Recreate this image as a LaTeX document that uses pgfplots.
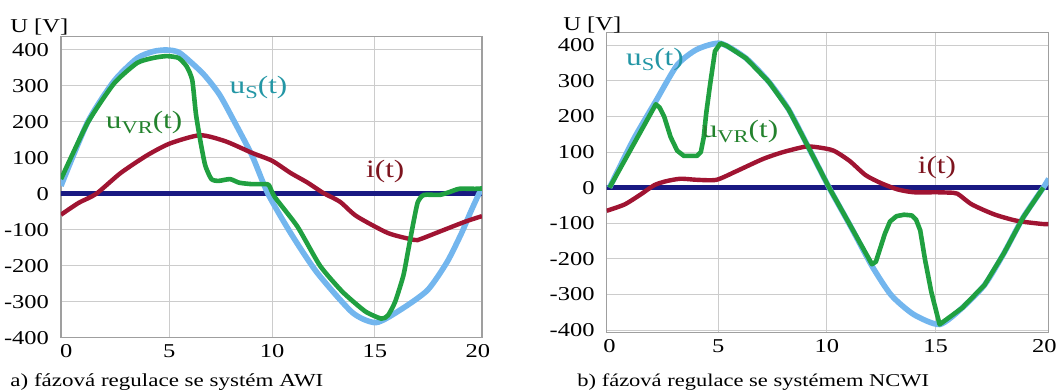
\documentclass[border=0pt]{standalone}
\usepackage{pgfplots}
\pgfplotsset{compat=1.18}
\usepackage{fontspec}
\setmainfont{Liberation Serif}[FakeStretch=1.25]
\definecolor{usblue}{RGB}{115,182,238}
\definecolor{vrgreen}{RGB}{32,160,64}
\definecolor{ired}{RGB}{160,20,50}
\definecolor{navyz}{RGB}{25,25,130}
\definecolor{lblteal}{RGB}{35,150,165}
\definecolor{lblgreen}{RGB}{35,130,45}
\definecolor{lblred}{RGB}{125,20,30}
\newcommand{\tfont}{\fontsize{9.8}{11}\selectfont}
\pgfplotsset{myax/.style={
  scale only axis, anchor=south west,
  ytick={-400,-300,...,400},
  xtick={5,10,15},
  extra x ticks={0,20}, extra x tick style={grid=none},
  grid=major, major grid style={draw=gray!40, line width=0.5pt},
  axis line style={draw=gray!75, line width=0.7pt},
  tick style={draw=none},
  ticklabel style={font=\tfont},
  yticklabel style={xshift=-2.5pt},
  /pgf/number format/assume math mode=true,
  clip=true,
}}
\newcommand{\lbl}{\fontsize{12.5}{14}\selectfont}
\newcommand{\sub}[1]{\raisebox{-0.4ex}{\fontsize{9}{10}\selectfont #1}}
\begin{document}
\begin{tikzpicture}
\useasboundingbox (0,0) rectangle (531pt,195pt);
% ---------- left ----------
\begin{axis}[myax, at={(30.5pt,26.15pt)}, width=210.5pt, height=150.5pt,
  xmin=-0.26, xmax=20.2, ymin=-400, ymax=437]
\addplot[navyz, line width=2.4pt] coordinates {(-0.3,0) (20.3,0)};
\addplot[usblue, line width=2.8pt, smooth, tension=0.4] coordinates {
(-0.26,22) (1.04,200) (2.32,314) (3.44,377) (4.23,396) (4.87,400) (5.51,392) (6.63,335) (7.42,278) (8.06,212) (9.02,107) (9.8,0)
(10.9,-109) (12.17,-218) (13.9,-330) (15.05,-358) (16.25,-322) (17.55,-268) (18.5,-190) (19.2,-110) (19.65,-50) (20.05,0) (20.2,15)};
\addplot[ired, line width=2.2pt, smooth, tension=0.4] coordinates {
(-0.26,-58) (0.6,-25) (1.45,0) (2.64,58) (3.92,107) (5.03,140) (6.5,163) (7.74,146) (9.02,114) (10.0,92) (10.9,58) (11.7,32) (12.5,2) (13.3,-22) (14.1,-62) (15.63,-109) (16.9,-128) (17.2,-126) (18.14,-105) (19.4,-77) (20.2,-62)};
\addplot[vrgreen, line width=2.3pt, line join=round, smooth, tension=0.35] coordinates {
(-0.26,41) (1.04,198) (2.32,307) (3.44,364) (4.23,378) (4.87,383) (5.45,378) (5.85,354) (6.12,316) (6.3,221) (6.52,145) (6.75,79) (7.05,41) (7.4,36) (7.95,41) (8.4,31) (9.02,27) (9.66,27) (9.85,24) (10.13,-9) (11.23,-91) (12.33,-200) (13.43,-273) (14.53,-327) (15.31,-347) (15.63,-338) (15.98,-300) (16.38,-227) (16.62,-155) (16.86,-82) (17.08,-23) (17.38,-3) (18.14,-3) (18.62,5) (19.09,14) (19.87,14) (20.2,15)};
\node[lblteal, font=\lbl] at (axis cs:9.34,295) {u\sub{S}(t)};
\node[lblgreen, font=\lbl] at (axis cs:3.78,198) {u\sub{VR}(t)};
\node[lblred, font=\lbl] at (axis cs:15.5,62) {i(t)};
\node[anchor=base, font=\tfont, inner sep=0pt] at (axis cs:18.1,-400) [yshift=-10.5pt] {t[ms]};
\end{axis}
\node[anchor=west, inner sep=0pt, font=\tfont] at (5pt,181.25pt) {U [V]};
\node[anchor=west, inner sep=0pt, font=\fontsize{9.2}{10}\selectfont] at (5pt,3.8pt) {a) fázová regulace se systém AWI};
% ---------- right ----------
\begin{axis}[myax, at={(303.35pt,28.85pt)}, width=220.8pt, height=150pt,
  xmin=-0.13, xmax=20.18, ymin=-406, ymax=436]
\addplot[navyz, line width=2.4pt] coordinates {(-0.3,0) (20.3,0)};
\addplot[usblue, line width=2.8pt, smooth, tension=0.4] coordinates {
(0,0) (1.1,135) (2.13,243) (3.11,344) (4.02,388) (5.1,405) (6.28,363) (7.34,296) (8.24,219) (9.15,113) (10.1,0)
(11.1,-110) (12.07,-220) (12.96,-302) (13.99,-356) (15.18,-384) (16.21,-338) (17.25,-273) (18.14,-184) (19.02,-84) (19.95,0) (20.2,25)};
\addplot[ired, line width=2.2pt, smooth, tension=0.4] coordinates {
(-0.13,-65) (0.7,-47) (1.46,-18) (2.06,7) (2.6,18) (3.27,25) (4.02,22) (4.92,22) (5.83,46) (7.04,80) (7.94,99) (9.0,115) (9.6,113) (10.3,104) (11.04,75) (11.78,35) (12.51,12) (13.25,-5) (13.99,-13) (15.03,-13) (15.6,-14) (16.0,-17) (16.66,-47) (17.69,-75) (18.73,-93) (19.9,-102) (20.2,-102)};
\addplot[vrgreen, line width=2.3pt, line join=round] coordinates {
(0,0) (2.13,234) (2.3,225) (2.51,200) (2.81,142) (3.11,104) (3.42,89) (4.02,89) (4.2,100) (4.33,140) (4.45,210) (4.62,287) (4.85,383) (5.1,405) (5.4,398) (6.28,363) (7.34,296) (8.24,219) (9.15,113) (10.1,0)
(12.07,-215) (12.25,-208) (12.45,-170) (12.66,-130) (12.9,-95) (13.2,-80) (13.55,-76) (13.9,-78) (14.1,-90) (14.29,-120) (14.51,-202) (14.8,-293) (15.18,-384) (16.21,-338) (17.25,-273) (18.14,-184) (19.02,-84) (19.95,0)};
\node[lblteal, font=\lbl] at (axis cs:2.09,359) {u\sub{S}(t)};
\node[lblgreen, font=\lbl] at (axis cs:6.0,157) {u\sub{VR}(t)};
\node[lblred, font=\lbl] at (axis cs:15.06,56) {i(t)};
\node[anchor=base, font=\tfont, inner sep=0pt] at (axis cs:17.5,-406) [yshift=-10.8pt] {t [ms]};
\end{axis}
\node[anchor=west, inner sep=0pt, font=\tfont] at (281.5pt,182.5pt) {U [V]};
\node[anchor=west, inner sep=0pt, font=\fontsize{9}{10}\selectfont] at (288.5pt,3.8pt) {b) fázová regulace se systémem NCWI};
\end{tikzpicture}
\end{document}
